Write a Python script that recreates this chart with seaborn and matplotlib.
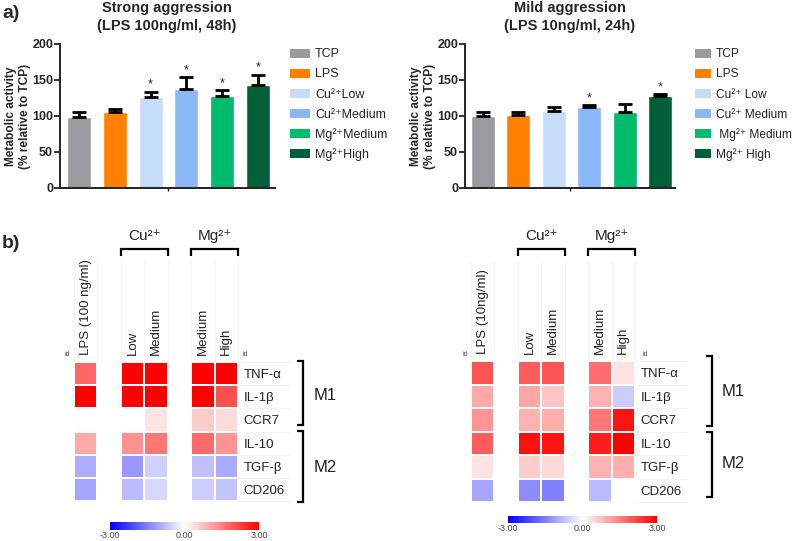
import numpy as np
import pandas as pd
import matplotlib
matplotlib.use("Agg")
import matplotlib.pyplot as plt
from matplotlib.lines import Line2D
from matplotlib.patches import Rectangle
import seaborn as sns

# ---------------- data ----------------
bar_keys = ["TCP", "LPS", "CuLow", "CuMed", "MgMed", "MgHigh"]
bar_colors = ["#9b9b9f", "#ff7f00", "#c6ddf9", "#89b8f7", "#00bb6b", "#005f38"]
legend_strong = ["TCP", "LPS", "Cu²⁺Low", "Cu²⁺Medium", "Mg²⁺Medium", "Mg²⁺High"]
legend_mild = ["TCP", "LPS", "Cu²⁺ Low", "Cu²⁺ Medium", " Mg²⁺ Medium", "Mg²⁺ High"]

strong_vals = [99, 105, 126, 138, 128, 143]
strong_err = [7, 5, 8, 16, 8, 14]
strong_sig = [False, False, True, True, True, True]

mild_vals = [100, 102, 107, 112, 105, 128]
mild_err = [5, 4, 5, 3, 11, 2]
mild_sig = [False, False, False, True, False, True]

yticks = [0, 50, 100, 150, 200]

genes = ["TNF-α", "IL-1β", "CCR7", "IL-10", "TGF-β", "CD206"]
hm_cols = ["LPS", "gap1", "CuLow", "CuMed", "gap2", "MgMed", "MgHigh"]
hm_labels_strong = ["LPS (100 ng/ml)", "", "Low", "Medium", "", "Medium", "High"]
hm_labels_mild = ["LPS (10ng/ml)", "", "Low", "Medium", "", "Medium", "High"]

nan = np.nan
strong_lps = [1.8, 3.0, 0.0, 1.0, -0.95, -1.05]
strong_culow = [3.0, 3.0, 0.0, 1.3, -1.2, -0.8]
strong_cumed = [3.0, 3.0, 0.35, 1.6, -0.55, -0.45]
strong_mgmed = [3.0, 3.0, 0.6, 1.75, -0.75, -0.6]
strong_mghigh = [3.0, 2.05, 0.4, 1.25, -1.0, -0.7]

mild_lps = [2.0, 1.0, 1.25, 1.9, 0.35, -1.05]
mild_culow = [1.9, 1.05, 0.9, 2.8, 0.6, -1.35]
mild_cumed = [2.0, 0.7, 0.95, 2.75, 0.45, -1.5]
mild_mgmed = [1.7, 0.9, 1.6, 2.65, 0.9, -0.8]
mild_mghigh = [0.35, -0.6, 2.75, 3.0, 0.95, nan]

# ---------------- style ----------------
sns.set_theme(style="white")
plt.rcParams["font.family"] = ["Liberation Sans", "DejaVu Sans"]
plt.rcParams["mathtext.default"] = "regular"

W, H = 793, 541
fig = plt.figure(figsize=(W / 100, H / 100), dpi=100)


def fx(x):
    return x / W


def fy(y):
    return 1 - y / H


def rect(x0, y0, x1, y1):
    return [fx(x0), fy(y1), fx(x1) - fx(x0), fy(y0) - fy(y1)]


def fline(xs, ys, lw=1.6, color="black"):
    fig.add_artist(Line2D([fx(x) for x in xs], [fy(y) for y in ys],
                          transform=fig.transFigure, color=color, lw=lw,
                          solid_capstyle="butt", solid_joinstyle="miter"))


# ---------------- bar panels ----------------
def bar_panel(box, vals, errs, sig, xlim, title_x, title, ylab_x, legend_labels,
              leg_x, leg_w, text_x, leg_fs):
    ax = fig.add_axes(rect(*box))
    df = pd.DataFrame({"cond": bar_keys, "val": vals})
    sns.barplot(data=df, x="cond", y="val", hue="cond", palette=bar_colors,
                order=bar_keys, hue_order=bar_keys, width=0.67, saturation=1,
                legend=False, ax=ax, errorbar=None)
    xs = np.arange(len(vals))
    ax.errorbar(xs, vals, yerr=[np.zeros(len(errs)), errs], fmt="none",
                ecolor="black", elinewidth=2.0, capsize=5, capthick=2.0, zorder=3)
    for i, (v, e, s) in enumerate(zip(vals, errs, sig)):
        if s:
            ax.text(i, v + e + 1.5, "*", ha="center", va="bottom", fontsize=9, color="#222222")
    ax.set_ylim(0, 200)
    ax.set_xlim(*xlim)
    ax.set_yticks(yticks)
    ax.set_yticklabels([str(t) for t in yticks], fontweight="bold", fontsize=9)
    ax.set_xticks([(xlim[0] + xlim[1]) / 2])
    ax.set_xticklabels([""])
    ax.set_xlabel("")
    ax.set_ylabel("")
    for sp in ["top", "right"]:
        ax.spines[sp].set_visible(False)
    for sp in ["left", "bottom"]:
        ax.spines[sp].set_color("#222222")
        ax.spines[sp].set_linewidth(1.4)
    ax.tick_params(axis="y", direction="out", length=4, width=1.3, color="#222222", pad=1, left=True)
    ax.tick_params(axis="x", direction="out", length=2, width=1, color="#222222", bottom=True)
    fig.text(fx(title_x), fy(1), title, ha="center", va="top", fontsize=10.5,
             fontweight="bold", linespacing=1.35)
    fig.text(fx(ylab_x), fy(116), "Metabolic activity\n(% relative to TCP)", rotation=90,
             ha="center", va="center", fontsize=8.6, fontweight="bold", linespacing=1.3)
    for i, (c, lab) in enumerate(zip(bar_colors, legend_labels)):
        yc = 53 + 20.1 * i
        fig.add_artist(Rectangle((fx(leg_x), fy(yc + 4.5)), fx(leg_w), 9 / H,
                                 transform=fig.transFigure, facecolor=c, edgecolor="none"))
        fig.text(fx(text_x), fy(yc + 4.3), lab, ha="left", va="baseline", fontsize=leg_fs,
                 color="#222222")
    return ax


bar_panel((60, 44, 275, 188), strong_vals, strong_err, strong_sig, (-0.53, 5.47),
          167, "Strong aggression\n(LPS 100ng/ml, 48h)", 18, legend_strong, 290, 20, 315, 9)
bar_panel((465, 44, 675, 188), mild_vals, mild_err, mild_sig, (-0.5, 5.42),
          570, "Mild aggression\n(LPS 10ng/ml, 24h)", 423, legend_mild, 695, 16, 716, 8.6)

fig.text(fx(2), fy(14), "a)", fontsize=14, fontweight="bold", ha="left", va="center")
fig.text(fx(2), fy(243), "b)", fontsize=14, fontweight="bold", ha="left", va="center")


# ---------------- heatmaps ----------------
def heat_panel(box, cbox, cols_data, col_labels, id_x, bracket_x, brackets, mlabels, mlab_x):
    x0, y0, x1, y1 = box
    ax = fig.add_axes(rect(*box))
    cax = fig.add_axes(rect(*cbox))
    data = {}
    for key in hm_cols:
        data[key] = cols_data.get(key, [nan] * len(genes))
    df = pd.DataFrame(data, index=genes)
    sns.heatmap(df, ax=ax, cmap="bwr", vmin=-3, vmax=3, linewidths=1.2, linecolor="white",
                xticklabels=col_labels, yticklabels=genes, cbar_ax=cax,
                cbar_kws={"orientation": "horizontal", "ticks": [-3, 0, 3], "format": "%.2f"})
    ax.xaxis.tick_top()
    ax.set_xticklabels(col_labels, rotation=90, fontsize=9.5, color="#222222")
    ax.set_yticklabels(genes, rotation=0, fontsize=9.5, color="#222222")
    ax.tick_params(axis="x", top=False, bottom=False, labeltop=True, labelbottom=False, length=0, pad=5)
    ax.yaxis.tick_right()
    ax.tick_params(axis="y", left=False, right=False, labelleft=False, labelright=True, length=0, pad=4)
    ax.set_xlabel("")
    ax.set_ylabel("")
    cax.tick_params(length=0, labelsize=6.5, labelcolor="#444444", pad=1)
    for sp in cax.spines.values():
        sp.set_visible(False)
    try:
        ax.collections[0].colorbar.outline.set_visible(False)
    except Exception:
        pass

    # faint guide lines
    cw = (x1 - x0) / len(hm_cols)
    rh = (y1 - y0) / len(genes)
    for k in range(len(hm_cols) + 1):
        fline([x0 + k * cw, x0 + k * cw], [y0, y0 - 100], lw=0.5, color="#f0f0f0")
    for k in range(len(genes) + 1):
        fline([x1, x1 + 52], [y0 + k * rh, y0 + k * rh], lw=0.5, color="#f0f0f0")

    fig.text(fx(id_x[0]), fy(354), "id", fontsize=5, color="#555555", ha="center", va="center")
    fig.text(fx(id_x[1]), fy(354), "id", fontsize=5, color="#555555", ha="center", va="center")

    # top brackets
    for (bx0, bx1, lab) in [(x0 + 2 * cw, x0 + 4 * cw, "Cu²⁺"), (x0 + 5 * cw, x0 + 7 * cw, "Mg²⁺")]:
        fline([bx0, bx0, bx1, bx1], [256, 249, 249, 256], lw=1.6)
        fig.text(fx((bx0 + bx1) / 2), fy(243), lab, ha="center", va="bottom", fontsize=11,
                 color="#222222")

    # side brackets
    for (ya, yb), lab, ly in zip(brackets, ["M1", "M2"], mlabels):
        fline([bracket_x - 6, bracket_x, bracket_x, bracket_x - 6], [ya, ya, yb, yb], lw=1.6)
        fig.text(fx(mlab_x), fy(ly), lab, ha="left", va="center", fontsize=12, color="#222222")
    return ax


heat_panel((74, 362, 238, 501), (110, 522, 259, 530),
           {"LPS": strong_lps, "CuLow": strong_culow, "CuMed": strong_cumed,
            "MgMed": strong_mgmed, "MgHigh": strong_mghigh},
           hm_labels_strong, (67, 245), 303, [(361, 425), (431, 502)], (396, 467), 314)
heat_panel((471, 361, 635, 502), (508, 516, 657, 523),
           {"LPS": mild_lps, "CuLow": mild_culow, "CuMed": mild_cumed,
            "MgMed": mild_mgmed, "MgHigh": mild_mghigh},
           hm_labels_mild, (465, 645), 712, [(356, 426), (432, 497)], (392, 463), 722)

fig.savefig("out.png", dpi=100)
